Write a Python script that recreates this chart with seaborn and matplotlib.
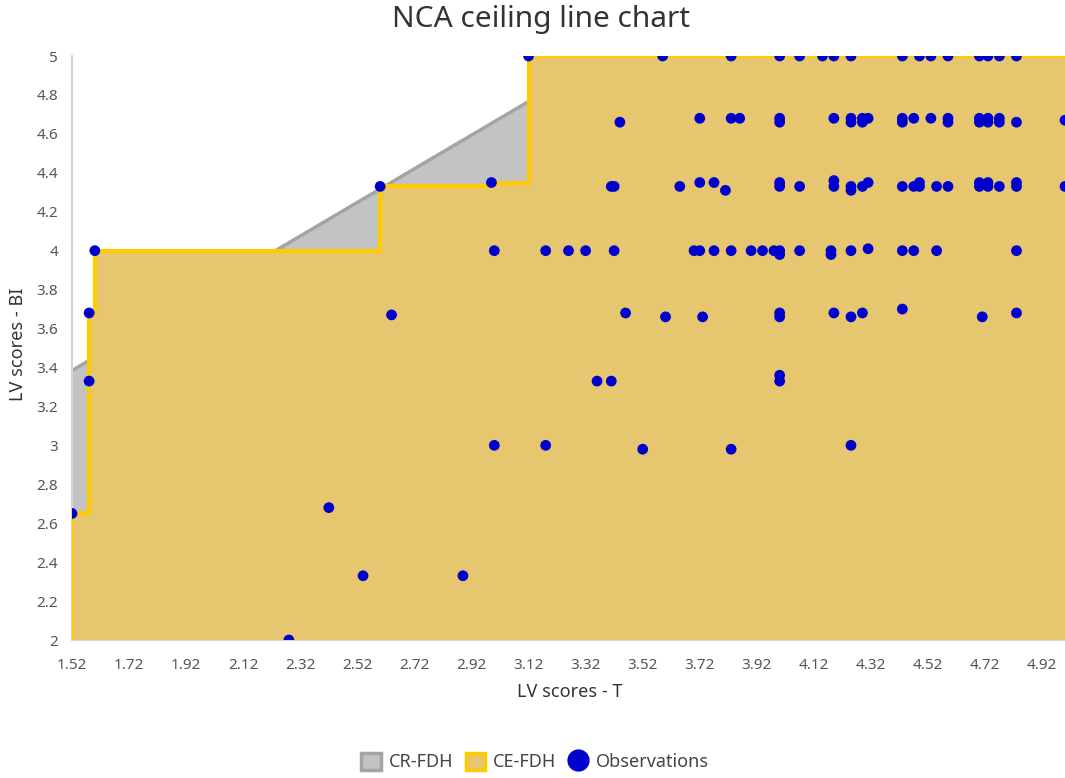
import matplotlib as mpl

mpl.use('Agg')
import matplotlib.pyplot as plt
from matplotlib.patches import Patch
from matplotlib.lines import Line2D
import seaborn as sns
import numpy as np
import pandas as pd

# observations (LV scores - T, LV scores - BI), read row by row
obs_x = [3.12, 3.59, 3.83, 4.00, 4.07, 4.15, 4.19, 4.25, 4.43, 4.49, 4.53, 4.59, 4.70, 4.73, 4.77, 4.83,
         3.44, 3.72, 3.83, 3.86, 4.00, 4.00, 4.19, 4.25, 4.25, 4.29, 4.29, 4.31, 4.43, 4.43, 4.47, 4.53,
         4.59, 4.59, 4.70, 4.70, 4.73, 4.73, 4.77, 4.77, 4.83, 5.00,
         2.60, 2.99, 3.41, 3.42, 3.65, 3.72, 3.77, 3.81, 4.00, 4.00, 4.07, 4.19, 4.19, 4.25, 4.25, 4.29,
         4.31, 4.43, 4.47, 4.49, 4.49, 4.55, 4.59, 4.70, 4.70, 4.73, 4.73, 4.77, 4.83, 4.83, 5.00,
         1.60, 3.00, 3.18, 3.26, 3.32, 3.42, 3.70, 3.72, 3.77, 3.83, 3.90, 3.94, 3.98, 4.00, 4.00, 4.07,
         4.18, 4.18, 4.25, 4.31, 4.43, 4.47, 4.55, 4.83,
         1.58, 2.64, 3.46, 3.60, 3.73, 4.00, 4.00, 4.19, 4.25, 4.29, 4.43, 4.71, 4.83,
         1.58, 3.36, 3.41, 4.00, 4.00,
         3.00, 3.18, 3.52, 3.83, 4.25,
         1.52, 2.42, 2.54, 2.89, 2.28]
obs_y = [5.00, 5.00, 5.00, 5.00, 5.00, 5.00, 5.00, 5.00, 5.00, 5.00, 5.00, 5.00, 5.00, 5.00, 5.00, 5.00,
         4.66, 4.68, 4.68, 4.68, 4.68, 4.66, 4.68, 4.68, 4.66, 4.68, 4.66, 4.68, 4.68, 4.66, 4.68, 4.68,
         4.68, 4.66, 4.68, 4.66, 4.68, 4.66, 4.68, 4.66, 4.66, 4.67,
         4.33, 4.35, 4.33, 4.33, 4.33, 4.35, 4.35, 4.31, 4.35, 4.33, 4.33, 4.36, 4.33, 4.33, 4.31, 4.33,
         4.35, 4.33, 4.33, 4.35, 4.33, 4.33, 4.33, 4.35, 4.33, 4.35, 4.33, 4.33, 4.35, 4.33, 4.33,
         4.00, 4.00, 4.00, 4.00, 4.00, 4.00, 4.00, 4.00, 4.00, 4.00, 4.00, 4.00, 4.00, 4.00, 3.98, 4.00,
         4.00, 3.98, 4.00, 4.01, 4.00, 4.00, 4.00, 4.00,
         3.68, 3.67, 3.68, 3.66, 3.66, 3.68, 3.66, 3.68, 3.66, 3.68, 3.70, 3.66, 3.68,
         3.33, 3.33, 3.33, 3.36, 3.33,
         3.00, 3.00, 2.98, 2.98, 3.00,
         2.65, 2.68, 2.33, 2.33, 2.00]

x_ticks = [1.52, 1.72, 1.92, 2.12, 2.32, 2.52, 2.72, 2.92, 3.12, 3.32, 3.52, 3.72, 3.92, 4.12, 4.32, 4.52, 4.72, 4.92]
y_ticks = [2, 2.2, 2.4, 2.6, 2.8, 3, 3.2, 3.4, 3.6, 3.8, 4, 4.2, 4.4, 4.6, 4.8, 5]
x_min, x_max = 1.52, 5.0
y_min, y_max = 2.0, 5.0

df = pd.DataFrame({'T': obs_x, 'BI': obs_y})

# CE-FDH: running maximum of BI along T
d = df.sort_values(['T', 'BI']).reset_index(drop=True)
ceil = d['BI'].cummax()
peers = d[ceil.diff().fillna(1) > 0].groupby('T')['BI'].max().reset_index()
step_x = list(peers['T']) + [x_max]
step_y = list(peers['BI']) + [peers['BI'].iloc[-1]]

# CR-FDH: OLS through the upper-left corners of the step
slope, icpt = np.polyfit(peers['T'], peers['BI'], 1)
cr_x = np.array([x_min, peers['T'].iloc[-1]])
cr_y = icpt + slope * cr_x

sns.set_style('white')
plt.rcParams['font.family'] = ['Noto Sans', 'DejaVu Sans']

fig = plt.figure(figsize=(10.65, 7.78), dpi=100)
ax = fig.add_axes([72 / 1065, 1 - 640 / 778, (1065 - 72) / 1065, (640 - 56) / 778])

ax.fill_between(cr_x, cr_y, y_min, color='#C3C3C3', lw=0, zorder=1)
ax.plot(cr_x, cr_y, color='#A4A4A4', lw=2.5, zorder=2)
ax.fill_between(step_x, step_y, y_min, step='post', color='#E6C66E', lw=0, zorder=3)
ax.step([x_min] + step_x, [y_min] + step_y, where='post', color='#FFCC00', lw=3, zorder=4)

sns.scatterplot(data=df, x='T', y='BI', color='#0000CC', s=60, edgecolor='none',
                zorder=5, ax=ax, legend=False)

ax.set_xticks(x_ticks)
ax.set_xticklabels([f'{v:.2f}' for v in x_ticks])
ax.set_xticks(np.array(x_ticks[:-1]) + 0.1, minor=True)
ax.set_yticks(y_ticks)
ax.set_yticklabels([f'{v:g}' for v in y_ticks])
ax.set_yticks(np.array(y_ticks[:-1]) + 0.1, minor=True)
ax.set_xlim(x_min, x_max)
ax.set_ylim(y_min, y_max)
ax.tick_params(which='both', direction='out', length=7, width=1.2, color='#CFCFCF',
               labelsize=11, labelcolor='#555555')
ax.tick_params(axis='x', pad=6)
ax.tick_params(axis='y', pad=3)
ax.set_xlabel('')
ax.set_ylabel('')

for side in ['top', 'right']:
    ax.spines[side].set_visible(False)
for side in ['left', 'bottom']:
    ax.spines[side].set_color('#D6D6D6')
    ax.spines[side].set_linewidth(1.5)

fig.text(541 / 1065, 1 - 20 / 778, 'NCA ceiling line chart', ha='center', va='center',
         fontsize=21.5, color='#333333')
fig.text(570 / 1065, 1 - 692 / 778, 'LV scores - T', ha='center', va='center',
         fontsize=13, color='#333333')
fig.text(18 / 1065, 1 - 344 / 778, 'LV scores - BI', ha='center', va='center',
         rotation=90, fontsize=13, color='#333333')

handles = [Patch(facecolor='#C3C3C3', edgecolor='#A4A4A4', lw=2.5, label='CR-FDH'),
           Patch(facecolor='#E6C66E', edgecolor='#FFCC00', lw=2.5, label='CE-FDH'),
           Line2D([], [], ls='none', marker='o', markersize=15, color='#0000CC', label='Observations')]
fig.legend(handles=handles, loc='center', bbox_to_anchor=(535 / 1065, 1 - 762 / 778), ncol=3,
           frameon=False, fontsize=13, labelcolor='#444444', handlelength=1.1, handleheight=1.1,
           handletextpad=0.4, columnspacing=0.7)

plt.savefig('out.png', dpi=100)
